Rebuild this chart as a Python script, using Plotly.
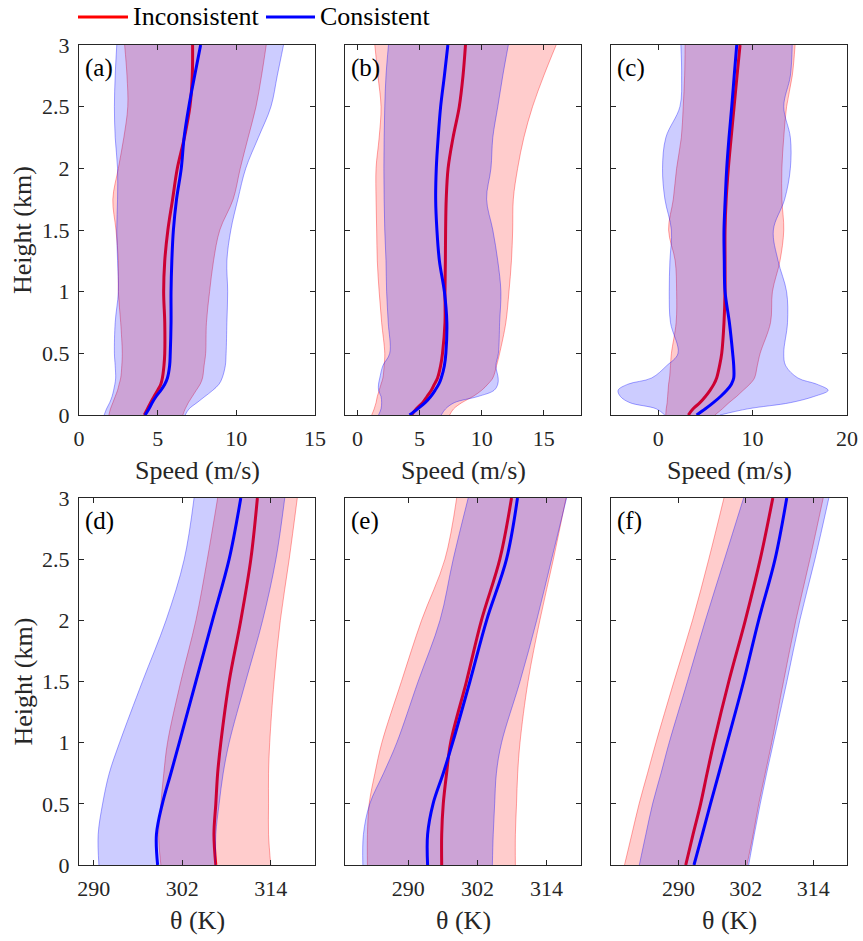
import plotly.graph_objects as go

W, H_PX = 863, 941

# ---------------- data ----------------
# heights (km) for the wind-speed profiles (top row)
H_SPEED = [0, 0.05, 0.1, 0.15, 0.2, 0.25, 0.3, 0.4, 0.5, 0.75, 1.0, 1.25, 1.5, 1.75, 2.0, 2.25, 2.5, 2.75, 3.0]
# heights (km) for the potential-temperature profiles (bottom row)
H_THETA = [0, 0.25, 0.5, 0.75, 1.0, 1.5, 2.0, 2.5, 3.0]

# (a) speed, m/s
a_inc_mean = [4.15, 4.35, 4.55, 4.77, 5.0, 5.2, 5.3, 5.4, 5.45, 5.45, 5.38, 5.45, 5.65, 5.95, 6.25, 6.7, 7.05, 7.2, 7.22]
a_inc_lo = [1.9, 2.0, 2.15, 2.3, 2.45, 2.55, 2.65, 2.72, 2.75, 2.65, 2.5, 2.5, 2.35, 2.15, 2.5, 2.85, 3.1, 3.05, 2.9]
a_inc_hi = [6.6, 6.75, 6.95, 7.2, 7.45, 7.7, 7.85, 7.95, 8.05, 8.1, 8.3, 8.55, 8.95, 9.8, 10.25, 10.75, 11.25, 11.6, 11.9]
a_con_mean = [4.2, 4.45, 4.65, 4.9, 5.2, 5.45, 5.62, 5.76, 5.8, 5.85, 5.85, 5.9, 6.0, 6.2, 6.5, 6.68, 6.98, 7.35, 7.73]
a_con_lo = [1.6, 1.75, 1.95, 2.1, 2.2, 2.28, 2.33, 2.3, 2.25, 2.3, 2.5, 2.45, 2.4, 2.45, 2.45, 2.3, 2.25, 2.3, 2.4]
a_con_hi = [6.75, 7.0, 7.5, 8.0, 8.5, 8.9, 9.1, 9.3, 9.35, 9.4, 9.45, 9.4, 9.65, 10.1, 10.6, 11.4, 12.2, 12.6, 13.0]

# (b) speed, m/s
b_inc_mean = [4.35, 4.75, 5.25, 5.6, 5.95, 6.2, 6.45, 6.7, 6.85, 7.05, 7.05, 7.08, 7.1, 7.15, 7.3, 7.7, 8.2, 8.5, 8.7]
b_inc_lo = [1.15, 1.35, 1.5, 1.6, 1.75, 1.9, 2.05, 2.15, 2.2, 1.95, 1.75, 1.6, 1.55, 1.5, 1.5, 1.75, 1.9, 1.65, 1.4]
b_inc_hi = [7.42, 7.75, 8.4, 9.3, 10.0, 10.5, 10.9, 11.2, 11.45, 11.95, 12.2, 12.4, 12.5, 12.55, 12.9, 13.4, 14.1, 15.0, 16.0]
b_con_mean = [4.2, 4.85, 5.45, 5.9, 6.25, 6.55, 6.75, 7.0, 7.12, 7.2, 7.0, 6.6, 6.4, 6.3, 6.35, 6.5, 6.7, 7.0, 7.28]
b_con_lo = [1.7, 1.9, 1.95, 1.9, 1.7, 1.7, 1.8, 2.05, 2.6, 2.48, 2.35, 2.3, 2.2, 2.15, 2.13, 2.15, 2.2, 2.3, 2.5]
b_con_hi = [6.75, 7.1, 7.8, 9.7, 11.0, 11.3, 11.33, 11.15, 11.35, 11.45, 11.55, 11.3, 10.9, 10.4, 10.75, 10.9, 11.3, 11.7, 12.15]

# (c) speed, m/s
c_inc_mean = [3.19, 3.7, 4.42, 5.0, 5.49, 5.9, 6.19, 6.5, 6.73, 6.97, 7.08, 7.08, 7.08, 7.2, 7.43, 7.73, 8.04, 8.35, 8.67]
c_inc_lo = [0.8, 0.85, 0.95, 1.0, 1.05, 1.1, 1.2, 1.3, 1.4, 1.9, 1.95, 1.8, 1.1, 1.6, 1.95, 2.45, 2.65, 2.8, 2.85]
c_inc_hi = [6.0, 6.8, 7.5, 8.3, 9.0, 9.7, 10.2, 10.5, 10.8, 11.9, 12.1, 12.9, 13.3, 13.1, 13.1, 13.3, 13.6, 14.2, 14.5]
c_con_mean = [4.07, 5.0, 5.84, 6.6, 7.26, 7.75, 8.0, 8.0, 7.89, 7.54, 7.08, 7.0, 6.97, 7.1, 7.26, 7.5, 7.79, 8.05, 8.32]
c_con_lo = [0.7, -0.2, -3.0, -4.0, -4.25, -3.2, -0.7, 0.9, 2.1, 1.3, 1.17, 1.24, 1.4, 0.71, 0.46, 0.81, 2.3, 2.48, 2.4]
c_con_hi = [6.55, 9.5, 14.0, 16.5, 18.0, 16.8, 14.8, 13.5, 13.3, 13.7, 13.6, 12.7, 12.2, 13.4, 14.0, 14.0, 13.3, 14.0, 14.2]

# (d) potential temperature, K
d_inc_mean = [306.55, 306.3, 306.55, 306.8, 307.23, 308.36, 309.94, 311.3, 312.19]
d_inc_lo = [299.1, 298.8, 299.1, 299.5, 300.0, 301.8, 303.85, 305.4, 306.8]
d_inc_hi = [314.0, 313.7, 313.7, 313.7, 313.86, 314.45, 315.3, 316.5, 317.6]
d_con_mean = [298.66, 298.5, 299.3, 300.46, 301.6, 303.85, 306.1, 308.36, 309.94]
d_con_lo = [290.7, 290.6, 291.2, 292.1, 293.5, 296.6, 299.8, 302.27, 303.6]
d_con_hi = [306.55, 306.55, 307.0, 307.55, 308.36, 310.6, 312.9, 314.7, 315.9]

# (e) potential temperature, K
e_inc_mean = [295.8, 295.8, 296.07, 296.65, 297.35, 300.1, 302.7, 305.9, 307.93]
e_inc_lo = [282.9, 282.9, 283.2, 284.2, 285.4, 288.8, 292.3, 296.36, 298.4]
e_inc_hi = [308.6, 308.6, 308.8, 309.0, 309.4, 310.8, 312.85, 315.2, 317.4]
e_con_mean = [293.35, 293.35, 294.3, 296.07, 297.7, 300.7, 303.6, 307.06, 308.97]
e_con_lo = [282.1, 282.2, 283.3, 285.7, 288.0, 291.7, 295.5, 297.8, 300.4]
e_con_hi = [304.6, 304.75, 305.0, 305.3, 306.2, 309.4, 312.3, 314.9, 317.5]

# (f) potential temperature, K
f_inc_mean = [291.3, 292.6, 293.95, 295.1, 296.3, 298.96, 301.9, 304.56, 306.8]
f_inc_lo = [280.4, 281.7, 283.0, 284.5, 286.0, 289.2, 292.5, 295.4, 298.1]
f_inc_hi = [302.2, 303.3, 304.3, 305.45, 306.6, 308.7, 310.9, 313.4, 315.77]
f_con_mean = [292.77, 294.25, 295.7, 297.2, 298.67, 301.6, 304.27, 307.2, 309.28]
f_con_lo = [283.04, 284.2, 285.4, 286.9, 288.35, 291.6, 294.8, 298.2, 301.6]
f_con_hi = [302.5, 303.5, 304.56, 305.7, 306.9, 309.3, 311.6, 314.3, 316.77]

PANEL_LABELS = ["(a)", "(b)", "(c)", "(d)", "(e)", "(f)"]
SERIES_NAMES = ["Inconsistent", "Consistent"]
X_RANGES = [[0, 15], [-1, 18], [-5, 20], [288, 320], [279, 320], [278, 320]]
X_TICKS = [[0, 5, 10, 15], [0, 5, 10, 15], [0, 10, 20], [290, 302, 314], [290, 302, 314], [290, 302, 314]]
Y_TICKS = [0, 0.5, 1, 1.5, 2, 2.5, 3]
X_TITLES = ["Speed (m/s)", "θ (K)"]
Y_TITLE = "Height (km)"

panels = [
    (H_SPEED, a_inc_mean, a_inc_lo, a_inc_hi, a_con_mean, a_con_lo, a_con_hi),
    (H_SPEED, b_inc_mean, b_inc_lo, b_inc_hi, b_con_mean, b_con_lo, b_con_hi),
    (H_SPEED, c_inc_mean, c_inc_lo, c_inc_hi, c_con_mean, c_con_lo, c_con_hi),
    (H_THETA, d_inc_mean, d_inc_lo, d_inc_hi, d_con_mean, d_con_lo, d_con_hi),
    (H_THETA, e_inc_mean, e_inc_lo, e_inc_hi, e_con_mean, e_con_lo, e_con_hi),
    (H_THETA, f_inc_mean, f_inc_lo, f_inc_hi, f_con_mean, f_con_lo, f_con_hi),
]

# ---------------- layout geometry (pixels -> paper) ----------------
def px(x):
    return x / W


def py(y):
    return 1 - y / H_PX


COLS = [(79, 315), (345, 581), (611, 847)]
ROWS = [(45, 415), (498, 865)]

FONT = "Liberation Serif, Times New Roman, serif"
INK = "rgb(38,38,38)"
RED, BLUE = "rgb(255,0,0)", "rgb(0,0,255)"
RED_FILL, BLUE_FILL = "rgba(255,0,0,0.2)", "rgba(0,0,255,0.2)"
RED_EDGE, BLUE_EDGE = "rgba(255,0,0,0.35)", "rgba(0,0,255,0.35)"

fig = go.Figure()
layout = dict(
    width=W, height=H_PX,
    margin=dict(l=0, r=0, t=0, b=0),
    paper_bgcolor="white", plot_bgcolor="white",
    showlegend=False,
    font=dict(family=FONT, color=INK, size=22),
)
annotations, shapes = [], []

for i, (h, im, ilo, ihi, cm, clo, chi) in enumerate(panels):
    k = "" if i == 0 else str(i + 1)
    xa, ya = "x" + k, "y" + k
    col, row = COLS[i % 3], ROWS[i // 3]

    def line_trace(x, color, width, fill=None, fillcolor=None):
        return go.Scatter(
            x=x, y=h, xaxis=xa, yaxis=ya, mode="lines",
            line=dict(color=color, width=width, shape="spline", smoothing=1.0),
            fill=fill, fillcolor=fillcolor, hoverinfo="skip",
        )

    fig.add_trace(line_trace(ilo, RED_EDGE, 1))
    fig.add_trace(line_trace(ihi, RED_EDGE, 1, "tonextx", RED_FILL))
    fig.add_trace(line_trace(im, RED, 3))
    fig.add_trace(line_trace(clo, BLUE_EDGE, 1))
    fig.add_trace(line_trace(chi, BLUE_EDGE, 1, "tonextx", BLUE_FILL))
    fig.add_trace(line_trace(cm, BLUE, 3))

    common = dict(
        showline=True, linecolor=INK, linewidth=1, mirror="allticks",
        ticks="inside", ticklen=5, tickwidth=1, tickcolor=INK,
        showgrid=False, zeroline=False, automargin=False,
        tickfont=dict(family=FONT, size=22, color=INK),
    )
    layout["xaxis" + k] = dict(
        common, domain=[px(col[0]), px(col[1])], anchor=ya,
        range=X_RANGES[i], tickmode="array", tickvals=X_TICKS[i],
        ticklabelstandoff=4,
    )
    layout["yaxis" + k] = dict(
        common, domain=[py(row[1]), py(row[0])], anchor=xa,
        range=[0, 3], tickmode="array", tickvals=Y_TICKS,
        showticklabels=(i % 3 == 0), ticklabelstandoff=4,
    )

    annotations.append(dict(
        text=PANEL_LABELS[i], xref="paper", yref="paper",
        x=px(col[0] + 4), y=py(row[0] + 7), xanchor="left", yanchor="top",
        showarrow=False, font=dict(family=FONT, size=25, color="black"),
    ))
    annotations.append(dict(
        text=X_TITLES[i // 3], xref="paper", yref="paper",
        x=px((col[0] + col[1]) / 2), y=py(row[1] + 55), xanchor="center", yanchor="middle",
        showarrow=False, font=dict(family=FONT, size=26, color=INK),
    ))
    if i % 3 == 0:
        annotations.append(dict(
            text=Y_TITLE, xref="paper", yref="paper", textangle=-90,
            x=px(23), y=py((row[0] + row[1]) / 2), xanchor="center", yanchor="middle",
            showarrow=False, font=dict(family=FONT, size=26, color=INK),
        ))

# key above the panels
key = [(SERIES_NAMES[0], RED, 78, 128), (SERIES_NAMES[1], BLUE, 266, 315)]
for name, color, x0, x1 in key:
    shapes.append(dict(type="line", xref="paper", yref="paper",
                       x0=px(x0), x1=px(x1), y0=py(17), y1=py(17),
                       line=dict(color=color, width=3)))
    annotations.append(dict(
        text=name, xref="paper", yref="paper", x=px(x1 + 3), y=py(17),
        xanchor="left", yanchor="middle", showarrow=False,
        font=dict(family=FONT, size=26, color="black"),
    ))

layout["annotations"] = annotations
layout["shapes"] = shapes
fig.update_layout(**layout)
fig.write_html("out.html")
